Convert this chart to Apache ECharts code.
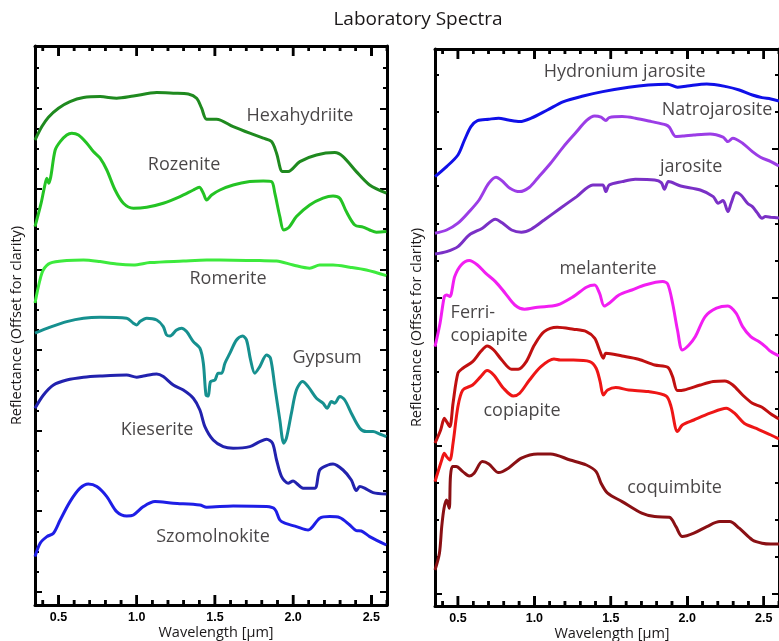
<!DOCTYPE html>
<html>
<head>
<meta charset="utf-8">
<script src="https://cdn.jsdelivr.net/npm/echarts@6/dist/echarts.min.js"></script>
<style>
  html, body { margin: 0; padding: 0; background: #fff; }
  #chart { width: 779px; height: 641px; }
</style>
</head>
<body>
<div id="chart"></div>
<script>
// Wavelength axis (µm)
const WAVE_MIN = 0.35;
const WAVE_MAX = 2.6;
const WAVE_MAJOR = [0.5, 1.0, 1.5, 2.0, 2.5];
const WAVE_MINOR = [];
for (let k = 4; k <= 26; k++) { if (k % 5 !== 0) WAVE_MINOR.push(k / 10); }

// Offset reflectance scales (arbitrary units, spectra stacked for clarity)
const LEFT_Y_MAX = 27.95;
const RIGHT_Y_MAX = 27.85;
const LEFT_TICK_START = 0.665, LEFT_TICK_STEP = 1.007, LEFT_TICK_COUNT = 27;
const RIGHT_TICK_START = 0.6, RIGHT_TICK_STEP = 1.8535, RIGHT_TICK_COUNT = 15;

// ---- left panel spectra: [wavelength µm, offset reflectance]
const hexahydriite = [[0.35,23.25],[0.394,23.92],[0.436,24.39],[0.5,24.84],[0.574,25.17],[0.66,25.37],[0.766,25.42],[0.872,25.34],[0.979,25.45],[1.128,25.62],[1.234,25.59],[1.33,25.55],[1.383,25.34],[1.415,24.84],[1.447,24.29],[1.51,24.29],[1.617,23.92],[1.723,23.59],[1.809,23.34],[1.862,23.17],[1.894,22.59],[1.932,21.67],[1.968,21.67],[2.043,22.17],[2.149,22.5],[2.266,22.62],[2.319,22.42],[2.404,21.67],[2.489,21.0],[2.596,20.59]];
const rozenite = [[0.35,18.92],[0.389,20.09],[0.411,20.92],[0.426,21.34],[0.438,21.09],[0.451,21.42],[0.479,22.75],[0.511,23.17],[0.553,23.5],[0.585,23.59],[0.628,23.5],[0.681,23.09],[0.723,22.67],[0.766,22.34],[0.809,21.75],[0.862,20.75],[0.915,20.09],[0.979,19.84],[1.064,19.89],[1.17,20.09],[1.277,20.42],[1.362,20.75],[1.4,20.89],[1.426,20.59],[1.447,20.25],[1.479,20.5],[1.532,20.75],[1.617,21.0],[1.723,21.17],[1.809,21.2],[1.862,21.17],[1.883,20.59],[1.915,19.42],[1.94,18.75],[1.974,18.89],[2.021,19.42],[2.106,20.0],[2.191,20.34],[2.255,20.45],[2.298,20.34],[2.34,19.67],[2.394,19.0],[2.447,18.89],[2.489,18.75],[2.532,18.64],[2.596,18.67]];
const romerite = [[0.35,15.1],[0.38,16.2],[0.403,16.75],[0.447,17.09],[0.553,17.22],[0.66,17.25],[0.766,17.17],[0.872,17.05],[0.979,17.0],[1.085,17.12],[1.298,17.2],[1.447,17.25],[1.617,17.24],[1.787,17.22],[1.894,17.2],[2.0,17.0],[2.106,16.84],[2.17,17.0],[2.255,17.0],[2.362,16.89],[2.468,16.75],[2.596,16.47]];
const gypsum = [[0.35,13.59],[0.447,13.89],[0.553,14.17],[0.66,14.34],[0.766,14.39],[0.936,14.34],[0.979,14.09],[1.0,14.0],[1.021,14.17],[1.064,14.34],[1.128,14.25],[1.17,13.92],[1.191,13.5],[1.213,13.45],[1.255,13.75],[1.287,13.84],[1.319,13.67],[1.362,13.17],[1.404,12.84],[1.426,12.09],[1.443,10.5],[1.457,10.45],[1.472,11.17],[1.5,11.25],[1.521,11.59],[1.543,11.59],[1.564,12.09],[1.596,12.59],[1.638,13.25],[1.677,13.45],[1.702,13.25],[1.728,12.25],[1.755,11.59],[1.787,11.92],[1.83,12.5],[1.855,12.34],[1.883,10.92],[1.915,9.25],[1.94,8.09],[1.957,8.34],[1.989,9.59],[2.021,10.75],[2.06,11.17],[2.096,10.92],[2.149,10.34],[2.191,10.09],[2.217,9.84],[2.245,10.17],[2.266,10.09],[2.298,10.42],[2.33,10.25],[2.372,9.59],[2.426,8.84],[2.468,8.67],[2.511,8.67],[2.553,8.55],[2.596,8.42]];
const kieserite = [[0.35,9.84],[0.404,10.5],[0.468,11.0],[0.553,11.25],[0.66,11.39],[0.766,11.45],[0.936,11.5],[1.0,11.39],[1.043,11.45],[1.128,11.55],[1.17,11.42],[1.234,11.0],[1.298,10.75],[1.362,10.34],[1.404,9.75],[1.436,8.92],[1.489,8.25],[1.553,7.92],[1.617,7.84],[1.723,7.92],[1.787,8.17],[1.83,8.29],[1.868,8.09],[1.894,7.25],[1.926,6.42],[1.968,6.09],[2.0,6.2],[2.021,6.09],[2.064,5.84],[2.138,5.84],[2.17,6.75],[2.223,7.0],[2.255,7.05],[2.319,6.75],[2.372,6.25],[2.404,5.72],[2.426,5.92],[2.457,5.84],[2.511,5.62],[2.596,5.55]];
const szomolnokite = [[0.35,2.42],[0.383,3.09],[0.426,3.42],[0.468,3.59],[0.511,4.25],[0.574,5.17],[0.638,5.84],[0.691,6.05],[0.745,5.92],[0.809,5.42],[0.872,4.67],[0.936,4.45],[0.979,4.5],[1.043,4.92],[1.117,5.17],[1.234,5.09],[1.404,5.0],[1.447,4.89],[1.617,4.95],[1.83,4.92],[1.883,4.79],[1.915,4.25],[1.947,4.09],[2.021,3.92],[2.096,3.75],[2.17,4.34],[2.234,4.42],[2.298,4.37],[2.362,4.0],[2.404,3.72],[2.436,3.7],[2.489,3.42],[2.596,3.0]];

// ---- right panel spectra
const hydroniumJarosite = [[0.35,21.47],[0.426,21.97],[0.5,22.55],[0.543,23.3],[0.585,23.97],[0.628,24.27],[0.702,24.34],[0.766,24.39],[0.83,24.3],[0.904,24.22],[0.979,24.39],[1.085,24.8],[1.191,25.22],[1.319,25.5],[1.447,25.72],[1.617,25.94],[1.745,26.05],[1.872,26.09],[1.936,25.94],[2.0,26.0],[2.128,26.1],[2.255,25.97],[2.34,25.8],[2.426,25.55],[2.489,25.42],[2.547,25.35],[2.6,25.25]];
const natrojarosite = [[0.35,18.64],[0.426,18.8],[0.5,19.14],[0.574,19.72],[0.638,20.3],[0.702,21.14],[0.749,21.44],[0.787,21.27],[0.84,20.89],[0.904,20.72],[0.968,20.94],[1.021,21.39],[1.106,22.14],[1.191,22.97],[1.277,23.72],[1.34,24.27],[1.394,24.5],[1.436,24.44],[1.468,24.27],[1.489,24.42],[1.574,24.47],[1.66,24.39],[1.766,24.22],[1.862,24.05],[1.883,23.94],[1.926,23.47],[1.979,23.5],[2.043,23.55],[2.149,23.6],[2.234,23.44],[2.266,23.22],[2.298,23.39],[2.362,23.14],[2.426,22.72],[2.479,22.44],[2.547,22.22],[2.6,22.0]];
const jarosite = [[0.35,17.6],[0.426,17.72],[0.5,17.97],[0.574,18.55],[0.66,18.89],[0.745,19.34],[0.787,19.17],[0.851,18.8],[0.915,18.69],[0.979,18.84],[1.064,19.3],[1.17,19.89],[1.277,20.47],[1.383,21.05],[1.447,21.05],[1.468,20.72],[1.489,21.05],[1.574,21.22],[1.66,21.34],[1.787,21.3],[1.83,21.17],[1.851,20.84],[1.877,21.22],[1.957,21.0],[2.085,20.8],[2.17,20.47],[2.202,20.14],[2.234,20.27],[2.266,19.72],[2.287,20.14],[2.319,20.67],[2.351,20.55],[2.394,20.14],[2.426,19.97],[2.457,19.67],[2.489,19.39],[2.511,19.47],[2.547,19.44],[2.6,19.4]];
const melanterite = [[0.35,12.97],[0.383,14.14],[0.411,15.47],[0.426,15.55],[0.447,15.47],[0.479,16.47],[0.521,17.05],[0.574,17.27],[0.628,17.05],[0.681,16.64],[0.745,16.22],[0.809,15.64],[0.872,15.05],[0.936,14.84],[1.021,14.94],[1.149,15.05],[1.255,15.47],[1.34,15.94],[1.394,16.05],[1.426,15.64],[1.457,15.0],[1.489,15.14],[1.553,15.55],[1.638,15.8],[1.723,16.05],[1.84,16.22],[1.872,16.1],[1.904,15.14],[1.936,13.8],[1.968,12.8],[2.011,13.05],[2.053,13.47],[2.117,14.47],[2.191,14.89],[2.266,15.0],[2.319,14.64],[2.362,13.97],[2.415,13.47],[2.468,13.22],[2.511,12.97],[2.547,12.72],[2.6,12.5]];
const ferriCopiapite = [[0.35,8.14],[0.387,8.8],[0.411,9.39],[0.426,9.22],[0.447,8.97],[0.468,10.14],[0.5,11.64],[0.532,11.89],[0.596,12.22],[0.649,12.72],[0.691,13.0],[0.734,12.8],[0.787,12.3],[0.851,11.84],[0.894,11.84],[0.947,12.22],[1.0,13.05],[1.064,13.72],[1.149,13.94],[1.255,13.84],[1.34,13.72],[1.394,13.39],[1.426,12.8],[1.451,12.39],[1.468,12.64],[1.574,12.5],[1.681,12.34],[1.787,12.05],[1.872,11.94],[1.904,11.47],[1.936,10.77],[1.979,10.8],[2.085,11.05],[2.17,11.22],[2.245,11.25],[2.298,11.05],[2.362,10.55],[2.426,10.14],[2.489,9.94],[2.547,9.6],[2.6,9.35]];
const copiapite = [[0.35,6.22],[0.394,7.3],[0.411,7.64],[0.426,7.47],[0.447,7.3],[0.468,8.14],[0.5,9.97],[0.532,10.8],[0.596,11.05],[0.649,11.47],[0.691,11.77],[0.734,11.55],[0.798,10.89],[0.862,10.5],[0.904,10.64],[0.968,11.3],[1.043,11.97],[1.128,12.35],[1.17,12.3],[1.255,12.3],[1.362,12.22],[1.404,11.89],[1.43,11.22],[1.451,10.55],[1.479,10.8],[1.532,10.92],[1.617,10.8],[1.745,10.72],[1.862,10.5],[1.894,9.97],[1.936,8.72],[1.968,9.05],[2.043,9.3],[2.149,9.64],[2.255,9.89],[2.309,9.64],[2.372,9.14],[2.447,8.89],[2.547,8.55],[2.6,8.35]];
const coquimbite = [[0.35,1.8],[0.379,2.64],[0.394,3.97],[0.409,4.89],[0.426,5.3],[0.443,4.89],[0.451,6.47],[0.464,6.97],[0.489,6.97],[0.532,6.72],[0.574,6.5],[0.606,6.64],[0.66,7.22],[0.702,7.1],[0.766,6.67],[0.83,6.89],[0.915,7.39],[1.021,7.6],[1.106,7.6],[1.234,7.3],[1.34,7.05],[1.404,6.72],[1.436,6.14],[1.479,5.64],[1.574,5.22],[1.702,4.64],[1.787,4.47],[1.883,4.44],[1.926,3.97],[1.968,3.47],[2.043,3.64],[2.128,3.97],[2.213,4.22],[2.277,4.22],[2.34,3.89],[2.426,3.3],[2.489,3.14],[2.547,3.1],[2.6,3.1]];

// Curve colours
const leftCurves = [
  ['Hexahydriite', hexahydriite, '#1f8a1f'],
  ['Rozenite', rozenite, '#24c324'],
  ['Romerite', romerite, '#3dea3d'],
  ['Gypsum', gypsum, '#16908f'],
  ['Kieserite', kieserite, '#2222ae'],
  ['Szomolnokite', szomolnokite, '#1e1ee6']
];
const rightCurves = [
  ['Hydronium jarosite', hydroniumJarosite, '#1010e8'],
  ['Natrojarosite', natrojarosite, '#9b3de6'],
  ['jarosite', jarosite, '#7a30c6'],
  ['melanterite', melanterite, '#f21ef2'],
  ['Ferri-copiapite', ferriCopiapite, '#c01010'],
  ['copiapite', copiapite, '#ee1616'],
  ['coquimbite', coquimbite, '#8a1014']
];

// Curve names, placed at [wavelength, offset]
const leftLabels = [['Hexahydriite', 2.044, 24.45], ['Rozenite', 1.303, 22.0], ['Romerite', 1.584, 16.3], ['Gypsum', 2.217, 12.35], ['Kieserite', 1.13, 8.75], ['Szomolnokite', 1.488, 3.4]];
const rightLabels = [['Hydronium jarosite', 1.59, 26.7], ['Natrojarosite', 2.195, 24.8], ['jarosite', 2.025, 21.95], ['melanterite', 1.482, 16.85], ['copiapite', 0.919, 9.75], ['coquimbite', 1.917, 5.9]];
const ferriLabel = ['Ferri-\ncopiapite', 0.452, 14.07];

const TITLE = 'Laboratory Spectra';
const X_NAME = 'Wavelength [μm]';
const Y_NAME = 'Reflectance (Offset for clarity)';

const TEXT = '#1a1718';
const FONT = 'Open Sans';

function seq(start, step, count, every) {
  const out = [];
  for (let k = 0; k < count; k++) if (k % every === 0) out.push(+(start + k * step).toFixed(4));
  return out;
}

const xAxes = [], yAxes = [];
function addPanel(g, yMax, tStart, tStep, tCount) {
  const line = (show) => ({ show, onZero: false, lineStyle: { color: '#000', width: 3 } });
  const tick = (len, vals) => ({ show: true, inside: true, length: len, customValues: vals, lineStyle: { color: '#000', width: 2 } });
  const xIdx = xAxes.length;
  xAxes.push({
    gridIndex: g, type: 'value', min: WAVE_MIN, max: WAVE_MAX, splitLine: { show: false },
    position: 'bottom', axisLine: line(true), axisTick: tick(10, WAVE_MAJOR),
    axisLabel: { customValues: WAVE_MAJOR, formatter: v => Number(v).toFixed(1), margin: 6, color: '#000', fontFamily: 'Liberation Sans Narrow, Liberation Sans, sans-serif', fontWeight: 'bold', fontSize: 12.5 }
  });
  xAxes.push({
    gridIndex: g, type: 'value', min: WAVE_MIN, max: WAVE_MAX, splitLine: { show: false },
    position: 'top', axisLine: line(true), axisTick: tick(10, WAVE_MAJOR), axisLabel: { show: false }
  });

  const yBase = { gridIndex: g, type: 'value', min: 0, max: yMax, splitLine: { show: false }, axisLabel: { show: false } };
  const major = seq(tStart, tStep, tCount, 4), minor = seq(tStart, tStep, tCount, 1);
  const yIdx = yAxes.length;
  yAxes.push(Object.assign({}, yBase, { position: 'left', axisLine: line(true), axisTick: tick(7, major) }));
  yAxes.push(Object.assign({}, yBase, { position: 'left', axisLine: line(false), axisTick: tick(4, minor) }));
  yAxes.push(Object.assign({}, yBase, { position: 'right', axisLine: line(true), axisTick: tick(7, major) }));
  yAxes.push(Object.assign({}, yBase, { position: 'right', axisLine: line(false), axisTick: tick(4, minor) }));
  return { xIdx, yIdx, yMax };
}

const leftAx = addPanel(0, LEFT_Y_MAX, LEFT_TICK_START, LEFT_TICK_STEP, LEFT_TICK_COUNT);
const rightAx = addPanel(1, RIGHT_Y_MAX, RIGHT_TICK_START, RIGHT_TICK_STEP, RIGHT_TICK_COUNT);

const series = [];

// Wavelength ticks on the bottom and top frame edges, pointing inwards
function addWaveTicks(ax, values, len) {
  series.push({
    type: 'custom', xAxisIndex: ax.xIdx, yAxisIndex: ax.yIdx, clip: false, z: 10,
    encode: { x: 0, y: 1 },
    data: values.map(v => [v, 0]),
    renderItem: (params, api) => {
      const cs = params.coordSys;
      const x = api.coord([api.value(0), 0])[0];
      const bottom = cs.y + cs.height;
      return {
        type: 'group',
        children: [
          { type: 'line', shape: { x1: x, y1: bottom, x2: x, y2: bottom - len }, style: { stroke: '#000', lineWidth: 2.5 } },
          { type: 'line', shape: { x1: x, y1: cs.y, x2: x, y2: cs.y + len }, style: { stroke: '#000', lineWidth: 2.5 } }
        ]
      };
    }
  });
}
[leftAx, rightAx].forEach(ax => { addWaveTicks(ax, WAVE_MAJOR, 10); addWaveTicks(ax, WAVE_MINOR, 5); });

function addCurves(list, ax) {
  list.forEach(([name, data, color]) => series.push({
    name, type: 'line', data, xAxisIndex: ax.xIdx, yAxisIndex: ax.yIdx,
    showSymbol: false, smooth: 0.3, clip: true,
    lineStyle: { color, width: 3 }, itemStyle: { color }, z: 2
  }));
}
addCurves(leftCurves, leftAx);
addCurves(rightCurves, rightAx);

const labelStyle = { show: true, position: 'inside', fontFamily: FONT, fontSize: 18, fontWeight: 500, color: TEXT, formatter: p => p.data.name };
function addLabels(list, ax, extra) {
  series.push({
    type: 'scatter', xAxisIndex: ax.xIdx, yAxisIndex: ax.yIdx, symbolSize: 1, silent: true, z: 5,
    itemStyle: { color: 'rgba(0,0,0,0)' }, label: Object.assign({}, labelStyle, extra || {}),
    data: list.map(([name, x, y]) => ({ name, value: [x, y] }))
  });
}
addLabels(leftLabels, leftAx);
addLabels(rightLabels, rightAx);
addLabels([ferriLabel], rightAx, { align: 'left', lineHeight: 23 });

const chart = echarts.init(document.getElementById('chart'));
chart.setOption({
  animation: false,
  grid: [
    { left: 35, top: 46, width: 352, height: 559, show: false },
    { left: 435, top: 49, width: 352, height: 557, show: false }
  ],
  xAxis: xAxes,
  yAxis: yAxes,
  series
});

// Title, axis titles and the wavelength ticks as graphic elements placed through the axis scales
const txt = (text, x, y, size, rotation) => ({
  type: 'text', x, y, rotation: rotation || 0, silent: true,
  style: { text, fill: TEXT, fontFamily: FONT, fontSize: size, align: 'center', verticalAlign: 'middle' }
});
const graphics = [txt(TITLE, 418, 20, 19)];
[leftAx, rightAx].forEach(ax => {
  const yBottom = chart.convertToPixel({ yAxisIndex: ax.yIdx }, 0);
  const yTop = chart.convertToPixel({ yAxisIndex: ax.yIdx }, ax.yMax);
  const xLeft = chart.convertToPixel({ xAxisIndex: ax.xIdx }, WAVE_MIN);
  const xRight = chart.convertToPixel({ xAxisIndex: ax.xIdx }, WAVE_MAX);
  graphics.push(txt(X_NAME, (xLeft + xRight) / 2 + 5, yBottom + 28, 14.5));
  graphics.push(txt(Y_NAME, xLeft - 18, (yBottom + yTop) / 2, 14.5, Math.PI / 2));
  [[WAVE_MAJOR, 10], [WAVE_MINOR, 5]].forEach(([vals, len]) => vals.forEach(v => {
    const x = chart.convertToPixel({ xAxisIndex: ax.xIdx }, v);
    graphics.push({ type: 'line', silent: true, z: 50, shape: { x1: x, y1: yBottom, x2: x, y2: yBottom - len }, style: { stroke: '#000', lineWidth: 2.5 } });
    graphics.push({ type: 'line', silent: true, z: 50, shape: { x1: x, y1: yTop, x2: x, y2: yTop + len }, style: { stroke: '#000', lineWidth: 2.5 } });
  }));
});
chart.setOption({ graphic: graphics });
</script>
</body>
</html>
